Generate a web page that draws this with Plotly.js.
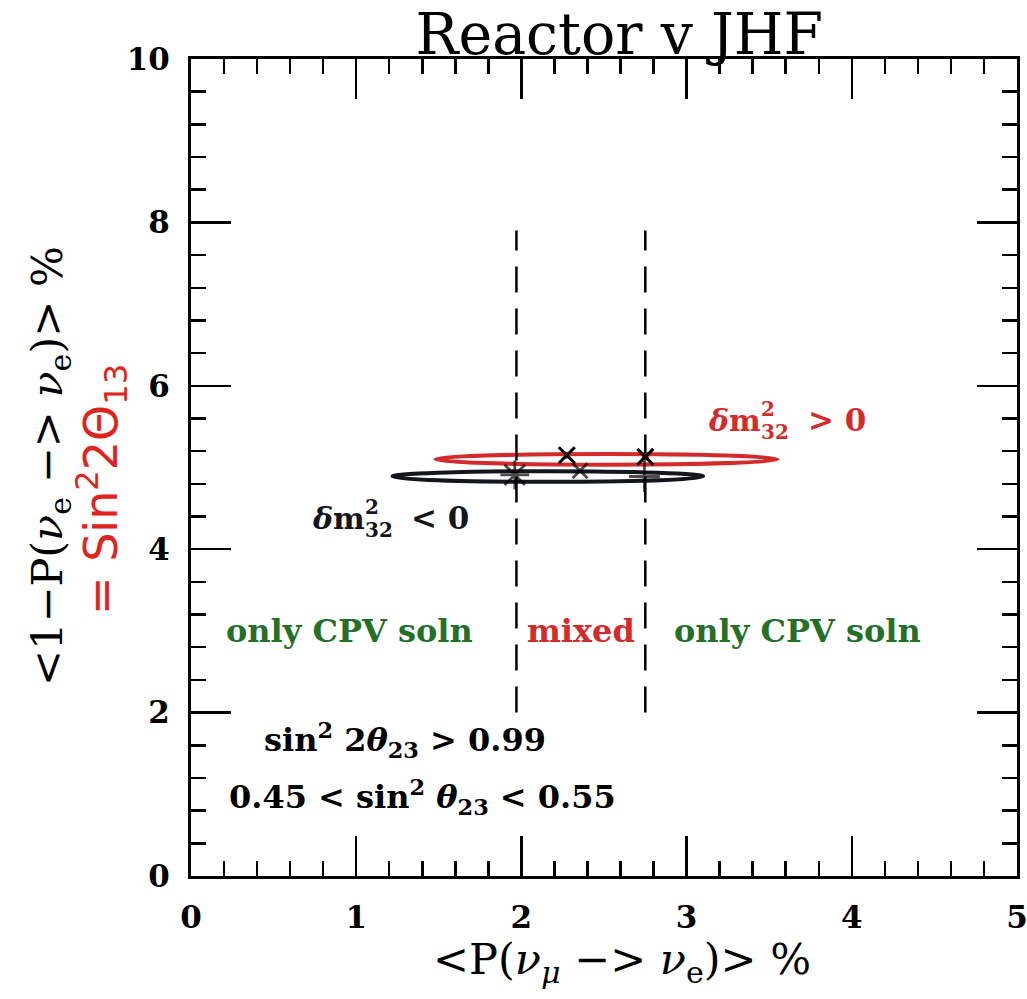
<!DOCTYPE html>
<html><head><meta charset="utf-8">
<script src="https://cdn.plot.ly/plotly-3.0.1.min.js"></script>
<style>html,body{margin:0;padding:0;background:#fff}</style>
</head><body>
<div id="chart" style="width:1027px;height:999px"></div>
<script>
// CP-trajectory ellipses: bounding box in data units
const ellipseNames = ['dm32 < 0', 'dm32 > 0'];
const ellipseXMin = [1.22, 1.48];
const ellipseXMax = [3.10, 3.55];
const ellipseYMin = [4.825, 5.035];
const ellipseYMax = [4.955, 5.165];
const ellipseColors = ['#14161e', '#d42a2c'];

// marked points on the ellipses
const blackPtsX = [1.96, 2.355, 2.745];
const blackPtsY = [4.91, 4.96, 4.89];
const blackSymbols = ['asterisk-open', 'x-thin-open', 'cross-thin-open'];
const redPtsX = [2.275, 2.75];
const redPtsY = [5.15, 5.13];

// dashed region boundaries
const boundaryX = [1.97, 2.75];
const boundaryY = [2.0, 7.9];

// region labels
const regionLabels = ['only CPV soln', 'mixed', 'only CPV soln'];
const regionX = [0.96, 2.36, 3.67];
const regionY = [3.0, 3.0, 3.0];
const regionColors = ['#247028', '#d42a2c', '#247028'];

// axis ticks
const xTickVals = [0, 1, 2, 3, 4, 5];
const xTickText = ['0', '1', '2', '3', '4', '5'];
const yTickVals = [0, 2, 4, 6, 8, 10];
const yTickText = ['0', '2', '4', '6', '8', '10'];

const SERIF = 'DejaVu Serif';
const RED = '#d42a2c';

const traces = [];
boundaryX.forEach(function (bx) {
  traces.push({
    x: [bx, bx], y: boundaryY, mode: 'lines', hoverinfo: 'skip',
    line: {color: '#000', width: 2.5, dash: '26px,16px'}, showlegend: false
  });
});
traces.push({
  x: blackPtsX, y: blackPtsY, mode: 'markers', showlegend: false,
  marker: {symbol: blackSymbols, size: [24, 15, 22], color: '#000', line: {color: '#000', width: 2.8}}
});
traces.push({
  x: redPtsX, y: redPtsY, mode: 'markers', showlegend: false,
  marker: {symbol: 'square', size: 7, color: RED, line: {width: 0}}
});
traces.push({
  x: redPtsX, y: redPtsY, mode: 'markers', showlegend: false,
  marker: {symbol: 'x-thin-open', size: 16, color: '#000', line: {color: '#000', width: 3}}
});

const shapes = ellipseNames.map(function (n, i) {
  return {
    type: 'circle', xref: 'x', yref: 'y', layer: 'below',
    x0: ellipseXMin[i], x1: ellipseXMax[i], y0: ellipseYMin[i], y1: ellipseYMax[i],
    line: {color: ellipseColors[i], width: 4}
  };
});

const bold = {family: SERIF, size: 32, color: '#000', weight: 'bold'};
const annotations = [];
regionLabels.forEach(function (t, i) {
  annotations.push({x: regionX[i], y: regionY[i], xref: 'x', yref: 'y', text: t, showarrow: false,
    font: Object.assign({}, bold, {color: regionColors[i]})});
});
// delta m^2_32 labels (stacked super/subscripts)
function dmLabel(x0, yc, rest, color) {
  annotations.push({x: x0, y: yc, xref: 'x', yref: 'y', xanchor: 'left', text: '<i>δ</i>m', showarrow: false,
    font: Object.assign({}, bold, {color: color, size: 30})});
  annotations.push({x: x0 + 0.32, y: yc + 0.14, xref: 'x', yref: 'y', xanchor: 'left', text: '2', showarrow: false,
    font: Object.assign({}, bold, {color: color, size: 20})});
  annotations.push({x: x0 + 0.32, y: yc - 0.15, xref: 'x', yref: 'y', xanchor: 'left', text: '32', showarrow: false,
    font: Object.assign({}, bold, {color: color, size: 20})});
  annotations.push({x: x0 + 0.6, y: yc, xref: 'x', yref: 'y', xanchor: 'left', text: rest, showarrow: false,
    font: Object.assign({}, bold, {color: color, size: 31})});
}
dmLabel(3.12, 5.58, '&gt; 0', RED);
dmLabel(0.72, 4.38, '&lt; 0', '#14161e');

annotations.push({x: 0.43, y: 1.66, xref: 'x', yref: 'y', xanchor: 'left',
  text: 'sin<sup>2</sup> 2<i>θ</i><sub>23</sub> &gt; 0.99', showarrow: false, font: bold});
annotations.push({x: 0.22, y: 0.97, xref: 'x', yref: 'y', xanchor: 'left',
  text: '0.45 &lt; sin<sup>2</sup> <i>θ</i><sub>23</sub> &lt; 0.55', showarrow: false, font: bold});

// axis titles (pixel positions converted to paper coords below)
annotations.push({x: 622, y: 962, xref: 'paper', yref: 'paper', xanchor: 'center', yanchor: 'middle', showarrow: false,
  text: '&lt;P(<i>ν</i><sub><i>μ</i></sub> −&gt; <i>ν</i><sub>e</sub>)&gt; %',
  font: {family: SERIF, size: 43, color: '#000'}});
annotations.push({x: 50, y: 466, xref: 'paper', yref: 'paper', xanchor: 'center', yanchor: 'middle', showarrow: false, textangle: -90,
  text: '&lt;1−P(<i>ν</i><sub>e</sub> −&gt; <i>ν</i><sub>e</sub>)&gt; %',
  font: {family: SERIF, size: 43, color: '#000'}});
// handwritten note
annotations.push({x: 102, y: 490, xref: 'paper', yref: 'paper', xanchor: 'center', yanchor: 'middle', showarrow: false, textangle: -90,
  text: '= Sin<sup>2</sup>2Θ<sub>13</sub>',
  font: {family: 'DejaVu Sans', size: 46, color: '#e0231c'}});

const W = 1027, H = 999, ML = 191, MR = 10, MT = 59, MB = 123;
const PW = W - ML - MR, PH = H - MT - MB;
annotations.forEach(function (a) {
  if (a.xref === 'paper' && a.x > 2) a.x = (a.x - ML) / PW;
  if (a.yref === 'paper' && a.y > 2) a.y = (H - MB - a.y) / PH;
});

const axisCommon = {
  showgrid: false, zeroline: false, showline: true, linecolor: '#000', linewidth: 3,
  ticks: 'inside', ticklen: 40, tickwidth: 2.5, tickcolor: '#000', mirror: 'allticks',
  tickfont: {family: SERIF, size: 31, color: '#000', weight: 'bold'}, ticklabelstandoff: 12,
  ticklabeloverflow: 'allow'
};

const layout = {
  width: W, height: H,
  margin: {l: ML, r: MR, t: MT, b: MB},
  paper_bgcolor: '#fff', plot_bgcolor: '#fff',
  title: {text: 'Reactor v JHF', font: {family: SERIF, size: 57, color: '#000'},
    xref: 'container', x: 0.603, xanchor: 'center', yref: 'container', y: 0.966, yanchor: 'middle'},
  xaxis: Object.assign({}, axisCommon, {range: [0, 5], tickmode: 'array', tickvals: xTickVals, ticktext: xTickText,
    minor: {dtick: 0.2, tick0: 0, ticks: 'inside', ticklen: 15, tickwidth: 2.5, tickcolor: '#000', showgrid: false}}),
  yaxis: Object.assign({}, axisCommon, {range: [0, 10], tickmode: 'array', tickvals: yTickVals, ticktext: yTickText,
    minor: {dtick: 0.4, tick0: 0, ticks: 'inside', ticklen: 15, tickwidth: 2.5, tickcolor: '#000', showgrid: false}}),
  shapes: shapes,
  annotations: annotations,
  showlegend: false
};

Plotly.newPlot('chart', traces, layout, {displayModeBar: false, staticPlot: true});
</script>
</body></html>
